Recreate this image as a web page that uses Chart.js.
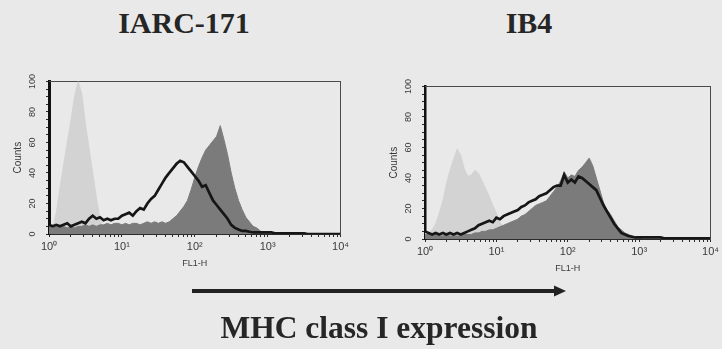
<!DOCTYPE html>
<html>
<head>
<meta charset="utf-8">
<script src="https://cdn.jsdelivr.net/npm/chart.js@4/dist/chart.umd.min.js"></script>
<style>
  html, body { margin: 0; padding: 0; background: #e9e9e9; }
  body { width: 722px; height: 349px; position: relative; overflow: hidden; }
  canvas { position: absolute; }
  .head {
    position: absolute; white-space: nowrap; color: #262626;
    font: bold 30px/30px "Liberation Serif", "Times New Roman", serif;
    transform: translateX(-50%);
  }
  .caption { font-size: 31.5px; line-height: 31.5px; }
  svg { position: absolute; left: 0; top: 0; }
</style>
</head>
<body>
<div class="head" style="left:184px;top:8px;">IARC-171</div>
<div class="head" style="left:529px;top:8px;">IB4</div>
<canvas id="iarc" width="352" height="205" style="left:0;top:70px;width:352px;height:205px;"></canvas>
<canvas id="ib4" width="346" height="205" style="left:376px;top:75px;width:346px;height:205px;"></canvas>
<svg width="722" height="349">
  <line x1="192" y1="291" x2="558" y2="291" stroke="#222" stroke-width="4"/>
  <polygon points="554,285.5 566,291 554,296.5" fill="#222"/>
</svg>
<div class="head caption" style="left:379px;top:312px;">MHC class I expression</div>

<script>
// FL1-H channel positions, in decades (log10 of fluorescence)
const channelLog = [
  0.00, 0.05, 0.10, 0.15, 0.20, 0.25, 0.30, 0.35, 0.40, 0.45,
  0.50, 0.55, 0.60, 0.65, 0.70, 0.75, 0.80, 0.85, 0.90, 0.95,
  1.00, 1.05, 1.10, 1.15, 1.20, 1.25, 1.30, 1.35, 1.40, 1.45,
  1.50, 1.55, 1.60, 1.65, 1.70, 1.75, 1.80, 1.85, 1.90, 1.95,
  2.00, 2.05, 2.10, 2.15, 2.20, 2.25, 2.30, 2.35, 2.40, 2.45,
  2.50, 2.55, 2.60, 2.65, 2.70, 2.75, 2.80, 2.85, 2.90, 2.95,
  3.00, 3.05, 3.10, 3.15, 3.20, 3.25, 3.30, 3.35, 3.40, 3.45,
  3.50, 3.55, 3.60, 3.65, 3.70, 3.75, 3.80, 3.85, 3.90, 3.95,
  4.00
];

// IARC-171 histograms (counts per channel)
const iarcControl = [
  1, 3, 14, 30, 45, 60, 74, 90, 100, 92,
  72, 56, 40, 24, 10, 3, 1, 0, 0, 0,
  0, 0, 0, 0, 0, 0, 0, 0, 0, 0,
  0, 0, 0, 0, 0, 0, 0, 0, 0, 0,
  0, 0, 0, 0, 0, 0, 0, 0, 0, 0,
  0, 0, 0, 0, 0, 0, 0, 0, 0, 0,
  0, 0, 0, 0, 0, 0, 0, 0, 0, 0,
  0, 0, 0, 0, 0, 0, 0, 0, 0, 0,
  0
];
const iarcFilled = [
  5, 4, 5, 4, 5, 4, 5, 4, 5, 5,
  6, 5, 6, 5, 6, 6, 7, 6, 7, 7,
  6, 7, 6, 7, 7, 6, 7, 8, 7, 8,
  7, 8, 7, 8, 10, 12, 15, 18, 22, 29,
  37, 44, 50, 55, 58, 61, 64, 71, 62, 52,
  40, 30, 22, 16, 11, 8, 5, 4, 2, 1,
  1, 0, 0, 0, 0, 0, 0, 0, 0, 0,
  0, 0, 0, 0, 0, 0, 0, 0, 0, 0,
  0
];
const iarcOutline = [
  6, 5, 6, 5, 6, 7, 5, 6, 7, 8,
  7, 10, 12, 10, 11, 9, 10, 9, 10, 10,
  12, 13, 14, 12, 15, 17, 16, 20, 23, 25,
  29, 33, 37, 40, 43, 46, 48, 47, 44, 41,
  38, 35, 31, 32, 27, 22, 19, 16, 13, 10,
  6, 4, 3, 2, 2, 1.5, 1, 1, 1, 1,
  1, 1, 0.5, 0.5, 0.5, 0.5, 0.5, 0.5, 0.5, 0.5,
  0.5, 0, 0, 0, 0, 0, 0, 0, 0, 0,
  0
];

// IB4 histograms (counts per channel)
const ib4Control = [
  5, 4, 6, 10, 17, 25, 36, 45, 52, 59,
  55, 46, 41, 42, 45, 43, 38, 33, 28, 22,
  17, 11, 7, 4, 2, 1, 0, 0, 0, 0,
  0, 0, 0, 0, 0, 0, 0, 0, 0, 0,
  0, 0, 0, 0, 0, 0, 0, 0, 0, 0,
  0, 0, 0, 0, 0, 0, 0, 0, 0, 0,
  0, 0, 0, 0, 0, 0, 0, 0, 0, 0,
  0, 0, 0, 0, 0, 0, 0, 0, 0, 0,
  0
];
const ib4Filled = [
  3, 3, 2, 3, 2, 2, 3, 2, 2, 2,
  2, 3, 3, 3, 4, 4, 5, 5, 6, 6,
  7, 8, 9, 10, 11, 12, 13, 15, 16, 18,
  20, 22, 23, 24, 25, 28, 31, 34, 38, 44,
  40, 42, 41, 45, 47, 50, 53, 48, 40, 32,
  24, 19, 16, 12, 8, 6, 4, 3, 2, 1,
  1, 0, 0, 0, 0, 0, 0, 0, 0, 0,
  0, 0, 0, 0, 0, 0, 0, 0, 0, 0,
  0
];
const ib4Outline = [
  5, 4, 3, 4, 3, 4, 3, 4, 3, 4,
  3, 4, 5, 6, 7, 9, 10, 11, 12, 11,
  14, 13, 15, 16, 17, 18, 19, 21, 22, 24,
  25, 26, 28, 29, 30, 32, 34, 35, 35, 42,
  37, 39, 37, 41, 40, 38, 36, 34, 32, 27,
  22, 18, 14, 10, 7, 4, 3, 2, 1.5, 1,
  1, 1, 1, 1, 1, 1, 1, 0.5, 0.5, 0.5,
  0.5, 0.5, 0.5, 0.5, 0.5, 0.5, 0.5, 0.5, 0.5, 0.5,
  0.5
];

// Axis labels
const xDecadeLabels = ['10\u2070', '10\u00B9', '10\u00B2', '10\u00B3', '10\u2074'];
const yTickLabels = [0, 20, 40, 60, 80, 100];

const COLORS = { control: '#d3d3d3', filled: '#7b7b7b', outline: '#161616', axis: '#2a2a2a', text: '#3a3a3a' };

function points(counts) {
  return counts.map((c, i) => ({ x: Math.pow(10, channelLog[i]), y: c }));
}

// log-axis tick positions: 1..9 x 10^k
function logTickValues() {
  const vals = [];
  for (let e = 0; e < 4; e++) for (let m = 1; m < 10; m++) vals.push(m * Math.pow(10, e));
  vals.push(10000);
  return vals;
}

function histogram(id, control, filled, outline, pad, yBorderWidth) {
  const frame = {
    display: true,
    grid: { display: false, drawTicks: false },
    ticks: { display: false },
    border: { display: true, color: '#4a4a4a', width: 1 }
  };
  return new Chart(document.getElementById(id), {
    type: 'line',
    data: {
      datasets: [
        { data: points(outline), borderColor: COLORS.outline, borderWidth: 2.7, pointRadius: 0,
          fill: false, tension: 0, order: 0 },
        { data: points(filled), borderColor: COLORS.filled, backgroundColor: COLORS.filled,
          borderWidth: 1, pointRadius: 0, fill: 'origin', tension: 0, order: 1 },
        { data: points(control), borderColor: COLORS.control, backgroundColor: COLORS.control,
          borderWidth: 1, pointRadius: 0, fill: 'origin', tension: 0, order: 2 }
      ]
    },
    options: {
      responsive: false,
      animation: false,
      devicePixelRatio: 1,
      layout: { padding: pad },
      plugins: { legend: { display: false }, tooltip: { enabled: false } },
      scales: {
        x: {
          type: 'logarithmic', min: 1, max: 10000,
          afterBuildTicks: s => { s.ticks = logTickValues().map(v => ({ value: v })); },
          afterFit: s => { s.height = 38; },
          grid: { display: true, drawOnChartArea: false, tickLength: 3, color: COLORS.axis, tickWidth: 1 },
          border: { display: true, color: COLORS.axis, width: 1 },
          ticks: {
            autoSkip: false, maxRotation: 0, minRotation: 0, padding: 3, color: COLORS.text,
            font: { family: 'Liberation Sans', size: 11 },
            callback: v => {
              const e = Math.round(Math.log10(v));
              return Math.abs(Math.pow(10, e) - v) < 1e-6 ? xDecadeLabels[e] : '';
            }
          },
          title: { display: true, text: 'FL1-H', color: COLORS.text,
            font: { family: 'Liberation Sans', size: 9 }, padding: { top: 0, bottom: 3 } }
        },
        y: {
          type: 'linear', min: 0, max: 100,
          afterBuildTicks: s => {
            const t = [];
            for (let v = 0; v <= 100; v += 5) t.push({ value: v });
            s.ticks = t;
          },
          afterFit: s => { s.width = 49; },
          grid: { display: true, drawOnChartArea: false, tickLength: 3, color: COLORS.axis, tickWidth: 1 },
          border: { display: true, color: '#111', width: yBorderWidth },
          ticks: {
            autoSkip: false, minRotation: 90, maxRotation: 90, crossAlign: 'center', padding: 6,
            color: COLORS.text, font: { family: 'Liberation Sans', size: 9 },
            callback: v => (yTickLabels.includes(v) ? String(v) : '')
          },
          title: { display: true, text: 'Counts', color: COLORS.text,
            font: { family: 'Liberation Sans', size: 10 }, padding: { top: 12, bottom: 0 } }
        },
        xTop: Object.assign({ type: 'linear', position: 'top', min: 0, max: 1,
          afterFit: s => { s.height = 0; } }, frame),
        yRight: Object.assign({ type: 'linear', position: 'right', min: 0, max: 1,
          afterFit: s => { s.width = 0; } }, frame)
      }
    }
  });
}

histogram('iarc', iarcControl, iarcFilled, iarcOutline, { left: 0, top: 10, right: 10, bottom: 3 }, 3);
histogram('ib4', ib4Control, ib4Filled, ib4Outline, { left: 0, top: 11, right: 7, bottom: 3 }, 2.5);
</script>
</body>
</html>
